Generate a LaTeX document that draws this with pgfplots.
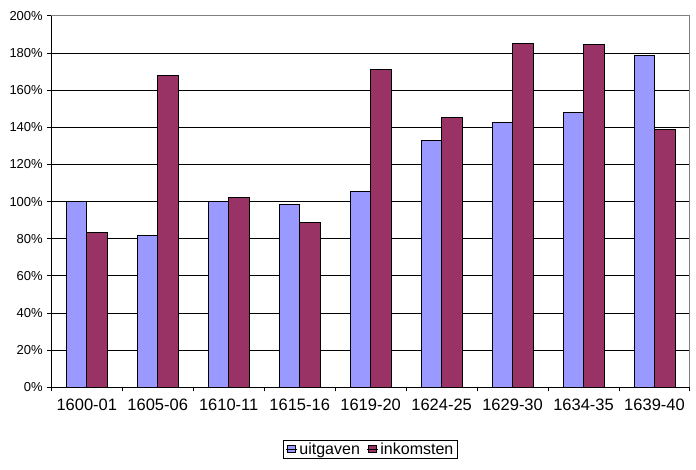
\documentclass[border=0pt]{standalone}
\usepackage{fontspec}
\setmainfont{Liberation Sans}
\usepackage{pgfplots}
\pgfplotsset{compat=1.18}
\definecolor{cblue}{HTML}{9999FF}
\definecolor{cmar}{HTML}{993366}
\begin{document}
\begin{tikzpicture}
\path[use as bounding box] (-51.3pt,-81.7pt) rectangle (644.7pt,387.3pt);
\begin{axis}[
  at={(0pt,0pt)}, anchor=south west,
  scale only axis, width=638.7pt, height=371.3pt,
  ybar=0pt, bar width=20.5pt,
  xmin=-0.5, xmax=8.5, ymin=0, ymax=200,
  clip=false,
  axis x line*=bottom, axis y line*=left,
  axis line style={black, line width=1pt},
  xtick={0,...,8},
  xticklabels={1600-01,1605-06,1610-11,1615-16,1619-20,1624-25,1629-30,1634-35,1639-40},
  major x tick style={draw=none},
  minor xtick={-0.5,0.5,...,8.5},
  minor x tick style={black, line width=1pt},
  tick align=outside,
  major tick length=4pt, minor tick length=4pt,
  ytick={0,20,...,200},
  yticklabels={0\%,20\%,40\%,60\%,80\%,100\%,120\%,140\%,160\%,180\%,200\%},
  major y tick style={black, line width=1pt},
  ymajorgrids, grid style={black, line width=1pt},
  xticklabel style={font=\fontsize{16.5}{19}\selectfont, anchor=north, yshift=-4pt},
  yticklabel style={font=\fontsize{13}{15}\selectfont, xshift=-1pt},
  legend style={at={(0.5,-0.1664)}, anchor=center, legend columns=2, draw=black, line width=1pt,
    font=\fontsize{16}{19}\selectfont, inner xsep=2pt, inner ysep=0.5pt,
    /tikz/every even column/.append style={column sep=5pt}},
  legend image code/.code={\draw[#1, draw=black, line width=0.8pt] (0pt,-3.75pt) rectangle (7.5pt,3.75pt);
    \path (-1pt,0pt) -- (9.5pt,0pt);},
]
\addplot[fill=cblue, draw=black, line width=1pt] coordinates {(0,100) (1,82) (2,100) (3,98.3) (4,105.5) (5,133) (6,142.7) (7,148.1) (8,178.8)};
\addplot[fill=cmar, draw=black, line width=1pt] coordinates {(0,83.5) (1,167.8) (2,102.3) (3,88.8) (4,171.2) (5,145.4) (6,185.2) (7,184.7) (8,138.9)};
\legend{uitgaven,inkomsten}
\draw[color=black!50, line width=1pt] (rel axis cs:0,1) -- (rel axis cs:1,1) -- (rel axis cs:1,0);
\end{axis}
\end{tikzpicture}
\end{document}
